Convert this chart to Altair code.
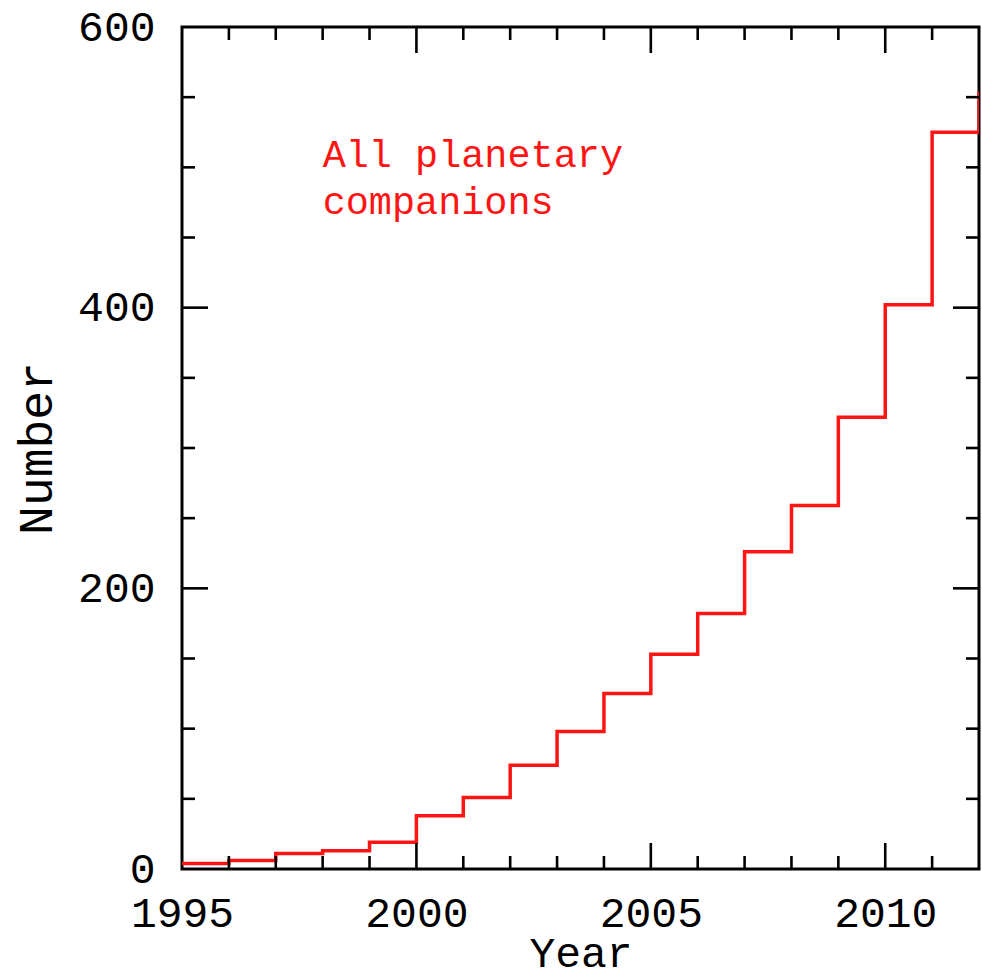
import altair as alt
import pandas as pd

# Cumulative number of known planetary companions, by year
years = list(range(1995, 2013))
counts = [4, 6, 11, 13, 19, 38, 51, 74, 98, 125, 153, 182, 226, 259, 322, 402, 525, 554]

# Axis labelling and tick marks
x_labels = [1995, 2000, 2005, 2010]
y_labels = [0, 200, 400, 600]
x_major_ticks = [2000, 2005, 2010]
x_minor_ticks = [y for y in range(1996, 2012) if y not in x_major_ticks]
y_major_ticks = [200, 400]
y_minor_ticks = [v for v in range(50, 600, 50) if v not in y_major_ticks]

note_lines = ["All planetary", "companions"]
note_x, note_y = 1998.0, 500

W, H = 797, 842
MAJOR, MINOR = 26, 13
FONT = "Liberation Mono"
RED = "#ff1414"

xs = alt.Scale(domain=[1995, 2012], nice=False, zero=False)
ys = alt.Scale(domain=[0, 600], nice=False)

df = pd.DataFrame({"year": years, "count": counts})

line = alt.Chart(df).mark_line(
    interpolate="step-after", color=RED, strokeWidth=3.5, clip=True
).encode(
    x=alt.X("year:Q", scale=xs, axis=alt.Axis(
        values=x_labels, format="d", ticks=False, domain=False, grid=False,
        labelFont=FONT, labelFontSize=43, labelColor="black",
        labelBaseline="alphabetic", labelPadding=57, labelFlush=False,
        title="Year", titleFont=FONT, titleFontSize=43, titleFontWeight="normal",
        titleColor="black", titleX=W / 2, titleY=97, titleBaseline="alphabetic",
        titleAlign="center")),
    y=alt.Y("count:Q", scale=ys, axis=alt.Axis(
        values=y_labels, ticks=False, domain=False, grid=False,
        labelFont=FONT, labelFontSize=43, labelColor="black",
        labelPadding=27, labelFlush=False,
        title="Number", titleFont=FONT, titleFontSize=48, titleFontWeight="normal",
        titleColor="black", titleX=-145, titleY=H / 2, titleAngle=-90,
        titleBaseline="middle", titleAlign="center")),
)


def xticks(vals, length):
    d = pd.DataFrame({"year": vals})
    base = alt.Chart(d).mark_rule(color="black", strokeWidth=2.6)
    bottom = base.encode(x=alt.X("year:Q", scale=xs),
                         y=alt.value(H), y2=alt.value(H - length))
    top = base.encode(x=alt.X("year:Q", scale=xs),
                      y=alt.value(0), y2=alt.value(length))
    return [bottom, top]


def yticks(vals, length):
    d = pd.DataFrame({"count": vals})
    base = alt.Chart(d).mark_rule(color="black", strokeWidth=2.6)
    left = base.encode(y=alt.Y("count:Q", scale=ys),
                       x=alt.value(0), x2=alt.value(length))
    right = base.encode(y=alt.Y("count:Q", scale=ys),
                        x=alt.value(W), x2=alt.value(W - length))
    return [left, right]


note = alt.Chart(pd.DataFrame({"year": [note_x], "count": [note_y],
                               "text": [note_lines]})).mark_text(
    font=FONT, fontSize=38.5, color=RED, align="left", baseline="alphabetic",
    lineHeight=47
).encode(
    x=alt.X("year:Q", scale=xs),
    y=alt.Y("count:Q", scale=ys),
    text="text",
)

layers = [line] + xticks(x_major_ticks, MAJOR) + xticks(x_minor_ticks, MINOR) \
    + yticks(y_major_ticks, MAJOR) + yticks(y_minor_ticks, MINOR) + [note]

chart = alt.layer(*layers).properties(
    width=W, height=H,
    padding={"left": 182, "top": 27, "right": 3, "bottom": 111},
    autosize=alt.AutoSizeParams(type="none"),
    background="white",
).configure_view(stroke="black", strokeWidth=3)

chart.save("out.html", embed_options={"renderer": "svg", "actions": False})
